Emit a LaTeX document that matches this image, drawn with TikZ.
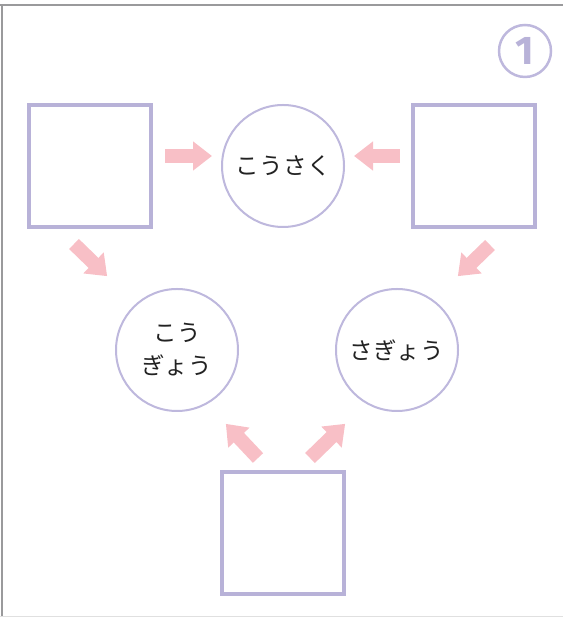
\documentclass[tikz,border=0pt]{standalone}
\usepackage{fontspec}
\newfontfamily\jpfont[LetterSpace=2]{Noto Sans CJK JP}
\newfontfamily\numfont{Fira Sans}
\usepackage{tikz}
\usetikzlibrary{arrows.meta, positioning}
\definecolor{LavMid}{HTML}{B8B2D8}
\definecolor{LavLight}{HTML}{BEB8DD}
\definecolor{PinkArrow}{HTML}{F8BFC6}
\definecolor{FrameGray}{HTML}{9A9A9C}
\definecolor{TextDark}{HTML}{222222}
\tikzset{
  box node/.style={
    rectangle, minimum size=122pt, inner sep=0pt,
    draw=LavMid, line width=4pt
  },
  word node/.style={
    circle, minimum size=122pt, inner sep=0pt, align=center,
    draw=LavLight, line width=2pt, fill=white,
    font=\jpfont\fontsize{23.5}{33}\selectfont, text=TextDark
  },
  pkarrow/.style={-{Triangle[length=19pt, width=28pt]}, line width=14pt, color=PinkArrow},
}
\begin{document}
\begin{tikzpicture}[x=1pt, y=1pt]
  \useasboundingbox (0,0) rectangle (563,617);
  % frame
  \draw[FrameGray, line width=2.5pt] (0,612) -- (563,612);
  \draw[FrameGray, line width=2pt] (1.5,0) -- (1.5,612);
  \draw[black!12, line width=1pt] (0,0.5) -- (563,0.5);

  % circled number
  \node[circle, draw=LavLight, line width=2.5pt, minimum size=52pt, inner sep=0pt,
        text=LavMid, font=\numfont\bfseries\fontsize{40}{40}\selectfont] (num) at (525,566) {1};

  \node[word node] (ctop) at (283,451) {こうさく};
  \node[word node] (cleft) at (177,267) {こう\\ぎょう};
  \node[word node] (cright) at (397,267) {さぎょう};

  \node[box node, left=68pt of ctop] (sqTL) {};
  \node[box node, right=66pt of ctop] (sqTR) {};
  \node[box node] (sqB) at (283,84) {};

  \draw[pkarrow] ([shift={(12pt,10pt)}]sqTL.east) -- ([shift={(-9pt,10pt)}]ctop.west);
  \draw[pkarrow] ([shift={(-11pt,10pt)}]sqTR.west) -- ([shift={(9pt,10pt)}]ctop.east);
  \draw[pkarrow] ([shift={(-16pt,-15pt)}]sqTL.south) -- ([shift={(-26pt,30pt)}]cleft.north west);
  \draw[pkarrow] ([shift={(16pt,-16pt)}]sqTR.south) -- ([shift={(17pt,30pt)}]cright.north east);
  \draw[pkarrow] ([shift={(-25pt,12pt)}]sqB.north) -- ([shift={(5pt,-30pt)}]cleft.south east);
  \draw[pkarrow] ([shift={(27pt,12pt)}]sqB.north) -- ([shift={(-8pt,-30pt)}]cright.south west);
\end{tikzpicture}
\end{document}
